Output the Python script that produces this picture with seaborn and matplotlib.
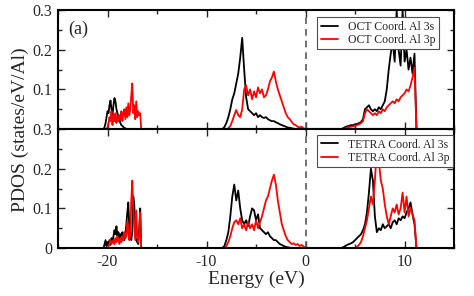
import matplotlib
matplotlib.use("Agg")
import matplotlib.pyplot as plt
import pandas as pd
import seaborn as sns
from matplotlib.ticker import MultipleLocator

# Energy grids (eV) for the three bands
e_core = [-20.6, -20.5, -20.4, -20.3, -20.2, -20.1, -20.0, -19.9, -19.8, -19.7,
          -19.6, -19.5, -19.4, -19.3, -19.2, -19.1, -19.0, -18.9, -18.8, -18.7,
          -18.6, -18.5, -18.4, -18.3, -18.2, -18.1, -18.0, -17.9, -17.8, -17.7,
          -17.6, -17.5, -17.4, -17.3, -17.2, -17.1, -17.0, -16.9, -16.8, -16.7,
          -16.6, -16.5, -16.4]
e_val = [-8.6, -8.4, -8.2, -8.0, -7.8, -7.6, -7.4, -7.2, -7.0, -6.8,
         -6.6, -6.4, -6.2, -6.0, -5.8, -5.6, -5.4, -5.2, -5.0, -4.8,
         -4.6, -4.4, -4.2, -4.0, -3.8, -3.6, -3.4, -3.2, -3.0, -2.8,
         -2.6, -2.4, -2.2, -2.0, -1.8, -1.6, -1.4, -1.2, -1.0, -0.8,
         -0.6, -0.4, -0.2, 0.0, 0.2]
e_cond = [3.4, 3.6, 3.8, 4.0, 4.2, 4.4, 4.6, 4.8, 5.0, 5.2,
          5.4, 5.6, 5.8, 6.0, 6.2, 6.4, 6.6, 6.8, 7.0, 7.2,
          7.4, 7.6, 7.8, 8.0, 8.2, 8.4, 8.6, 8.8, 9.0, 9.2,
          9.4, 9.6, 9.8, 10.0, 10.2, 10.4, 10.6, 10.8, 11.0, 11.2,
          11.4]

# OCT coordinated Al
oct_s_core = [0, 0, 0, 0.005, 0.015, 0.03, 0.045, 0.04, 0.06, 0.072,
              0.05, 0.035, 0.06, 0.078, 0.07, 0.05, 0.04, 0.03, 0.025, 0.015,
              0.01, 0.008, 0.005, 0.003, 0.002, 0, 0, 0, 0, 0,
              0, 0, 0, 0, 0, 0, 0, 0, 0, 0,
              0, 0, 0]
oct_p_core = [0, 0, 0, 0, 0, 0, 0.005, 0.015, 0.03, 0.02,
              0.045, 0.01, 0.035, 0.02, 0.04, 0.015, 0.03, 0.02, 0.035, 0.025,
              0.045, 0.02, 0.04, 0.05, 0.025, 0.055, 0.03, 0.065, 0.035, 0.05,
              0.085, 0.115, 0.04, 0.06, 0.025, 0.07, 0.03, 0.045, 0.035, 0.04,
              0, 0, 0]
oct_s_val = [0, 0, 0.005, 0.015, 0.03, 0.05, 0.075, 0.09, 0.115, 0.14,
             0.18, 0.23, 0.15, 0.08, 0.05, 0.045, 0.04, 0.035, 0.04, 0.03,
             0.035, 0.03, 0.028, 0.03, 0.025, 0.022, 0.02, 0.02, 0.017, 0.015,
             0.012, 0.01, 0.008, 0.006, 0.004, 0.003, 0.002, 0.001, 0, 0,
             0, 0, 0, 0, 0]
oct_p_val = [0, 0, 0, 0, 0.002, 0.008, 0.02, 0.035, 0.048, 0.035,
             0.03, 0.05, 0.1, 0.11, 0.085, 0.1, 0.075, 0.095, 0.08, 0.105,
             0.09, 0.1, 0.08, 0.085, 0.1, 0.12, 0.13, 0.145, 0.12, 0.1,
             0.085, 0.07, 0.055, 0.04, 0.03, 0.025, 0.018, 0.012, 0.01, 0.006,
             0.004, 0.006, 0.002, 0, 0]
oct_s_cond = [0, 0, 0.002, 0.005, 0.007, 0.008, 0.01, 0.01, 0.012, 0.013,
              0.015, 0.018, 0.025, 0.05, 0.055, 0.06, 0.05, 0.045, 0.05, 0.045,
              0.055, 0.05, 0.06, 0.07, 0.1, 0.15, 0.19, 0.22, 0.17, 0.3,
              0.2, 0.16, 0.3, 0.17, 0.2, 0.15, 0.18, 0.14, 0.19, 0,
              0]
oct_p_cond = [0, 0, 0, 0.002, 0.004, 0.005, 0.006, 0.007, 0.008, 0.01,
              0.012, 0.015, 0.02, 0.04, 0.05, 0.045, 0.04, 0.035, 0.04, 0.035,
              0.045, 0.04, 0.05, 0.045, 0.055, 0.06, 0.065, 0.07, 0.065, 0.075,
              0.07, 0.08, 0.085, 0.09, 0.1, 0.095, 0.11, 0.13, 0.155, 0,
              0]

# TETRA coordinated Al
tet_s_core = [0, 0, 0, 0.01, 0.02, 0.005, 0.015, 0.01, 0.02, 0.008,
              0.025, 0.015, 0.03, 0.045, 0.035, 0.055, 0.03, 0.04, 0.025, 0.035,
              0.03, 0.04, 0.025, 0.02, 0.035, 0.06, 0.09, 0.115, 0.05, 0.03,
              0.02, 0.04, 0.13, 0.11, 0.03, 0.02, 0.015, 0.01, 0.05, 0.1,
              0, 0, 0]
tet_p_core = [0, 0, 0, 0, 0, 0, 0, 0.005, 0.01, 0.02,
              0.01, 0.015, 0.02, 0.01, 0.025, 0.015, 0.03, 0.02, 0.01, 0.025,
              0.015, 0.03, 0.02, 0.04, 0.025, 0.03, 0.065, 0.04, 0.02, 0.035,
              0.12, 0.17, 0.1, 0.06, 0.02, 0.095, 0.03, 0.015, 0.04, 0.09,
              0, 0, 0]
tet_s_val = [0, 0, 0.005, 0.02, 0.04, 0.08, 0.13, 0.16, 0.12, 0.145,
             0.1, 0.07, 0.06, 0.07, 0.055, 0.08, 0.1, 0.095, 0.07, 0.085,
             0.05, 0.045, 0.04, 0.035, 0.04, 0.03, 0.025, 0.02, 0.02, 0.015,
             0.01, 0.008, 0.005, 0.003, 0.002, 0.001, 0, 0, 0, 0,
             0, 0, 0, 0, 0]
tet_p_val = [0, 0, 0, 0.005, 0.015, 0.03, 0.05, 0.065, 0.07, 0.06,
             0.075, 0.05, 0.06, 0.045, 0.065, 0.05, 0.06, 0.045, 0.07, 0.05,
             0.065, 0.08, 0.1, 0.12, 0.13, 0.15, 0.17, 0.185, 0.16, 0.12,
             0.09, 0.06, 0.045, 0.03, 0.02, 0.015, 0.01, 0.012, 0.008, 0.01,
             0.005, 0.008, 0.004, 0, 0]
tet_s_cond = [0, 0, 0.002, 0.005, 0.008, 0.01, 0.012, 0.015, 0.02, 0.025,
              0.03, 0.035, 0.045, 0.06, 0.09, 0.14, 0.2, 0.17, 0.08, 0.04,
              0.05, 0.045, 0.06, 0.05, 0.055, 0.06, 0.05, 0.065, 0.07, 0.06,
              0.075, 0.07, 0.08, 0.075, 0.09, 0.1, 0.115, 0.085, 0.06, 0,
              0]
tet_p_cond = [0, 0, 0, 0, 0, 0, 0, 0, 0, 0.003,
              0.008, 0.015, 0.03, 0.05, 0.07, 0.1, 0.13, 0.11, 0.17, 0.25,
              0.22, 0.17, 0.15, 0.11, 0.08, 0.06, 0.08, 0.1, 0.09, 0.11,
              0.085, 0.1, 0.14, 0.09, 0.13, 0.08, 0.1, 0.085, 0.07, 0,
              0]

top_labels = ["OCT Coord. Al 3s", "OCT Coord. Al 3p"]
bottom_labels = ["TETRA Coord. Al 3s", "TETRA Coord. Al 3p"]

energy = e_core + e_val + e_cond


def panel_frame(labels, s_vals, p_vals):
    n = len(energy)
    assert len(s_vals) == n and len(p_vals) == n
    return pd.DataFrame({
        "energy": energy + energy,
        "pdos": s_vals + p_vals,
        "orbital": [labels[0]] * n + [labels[1]] * n,
    })


df_top = panel_frame(top_labels, oct_s_core + oct_s_val + oct_s_cond,
                     oct_p_core + oct_p_val + oct_p_cond)
df_bot = panel_frame(bottom_labels, tet_s_core + tet_s_val + tet_s_cond,
                     tet_p_core + tet_p_val + tet_p_cond)

sns.set_style("ticks")
plt.rcParams["font.family"] = ["Liberation Serif", "DejaVu Serif"]
plt.rcParams["axes.unicode_minus"] = False

fig, (ax1, ax2) = plt.subplots(2, 1, figsize=(4.74, 2.96), dpi=100, sharex=True)
fig.subplots_adjust(left=0.1224, right=0.958, top=0.966, bottom=0.162, hspace=0)

for ax, df, labels, legend_top in [(ax1, df_top, top_labels, 0.94),
                                   (ax2, df_bot, bottom_labels, 0.95)]:
    sns.lineplot(data=df, x="energy", y="pdos", hue="orbital", hue_order=labels,
                 palette=["black", "red"], estimator=None, sort=False,
                 linewidth=1.3, ax=ax)
    ax.axvline(0, color="0.35", linestyle=(0, (4, 3)), linewidth=1.2)
    ax.set_xlim(-25, 15)
    ax.set_ylim(0, 0.3)
    ax.xaxis.set_major_locator(MultipleLocator(10))
    ax.xaxis.set_minor_locator(MultipleLocator(5))
    ax.set_yticks([0, 0.1, 0.2, 0.3])
    ax.yaxis.set_minor_locator(MultipleLocator(0.05))
    ax.tick_params(which="both", direction="in", top=True, right=True,
                   width=1.0, labelsize=11.5, pad=4)
    ax.tick_params(which="major", length=5)
    ax.tick_params(which="minor", length=3)
    for sp in ax.spines.values():
        sp.set_linewidth(1.5)
        sp.set_color("black")
    ax.set_xlabel("")
    ax.set_ylabel("")
    leg = ax.legend(loc="upper left", bbox_to_anchor=(0.654, legend_top),
                    borderaxespad=0, frameon=True, fancybox=False,
                    edgecolor="0.3", framealpha=1, fontsize=8.5,
                    handlelength=1.5, handletextpad=0.8, borderpad=0.3,
                    labelspacing=0.1)
    leg.get_frame().set_linewidth(0.8)

ax1.set_yticklabels(["", "0.1", "0.2", "0.3"])
ax2.set_yticklabels(["0", "0.1", "0.2", "0.3"])

ax1.text(0.025, 0.84, "(a)", transform=ax1.transAxes, fontsize=13, va="center")
fig.text(0.043, 0.561, "PDOS (states/eV/Al)", rotation=90, fontsize=14,
         ha="center", va="center")
fig.text(0.54, 0.057, "Energy (eV)", fontsize=14, ha="center", va="center")

fig.savefig("out.png", dpi=100)
